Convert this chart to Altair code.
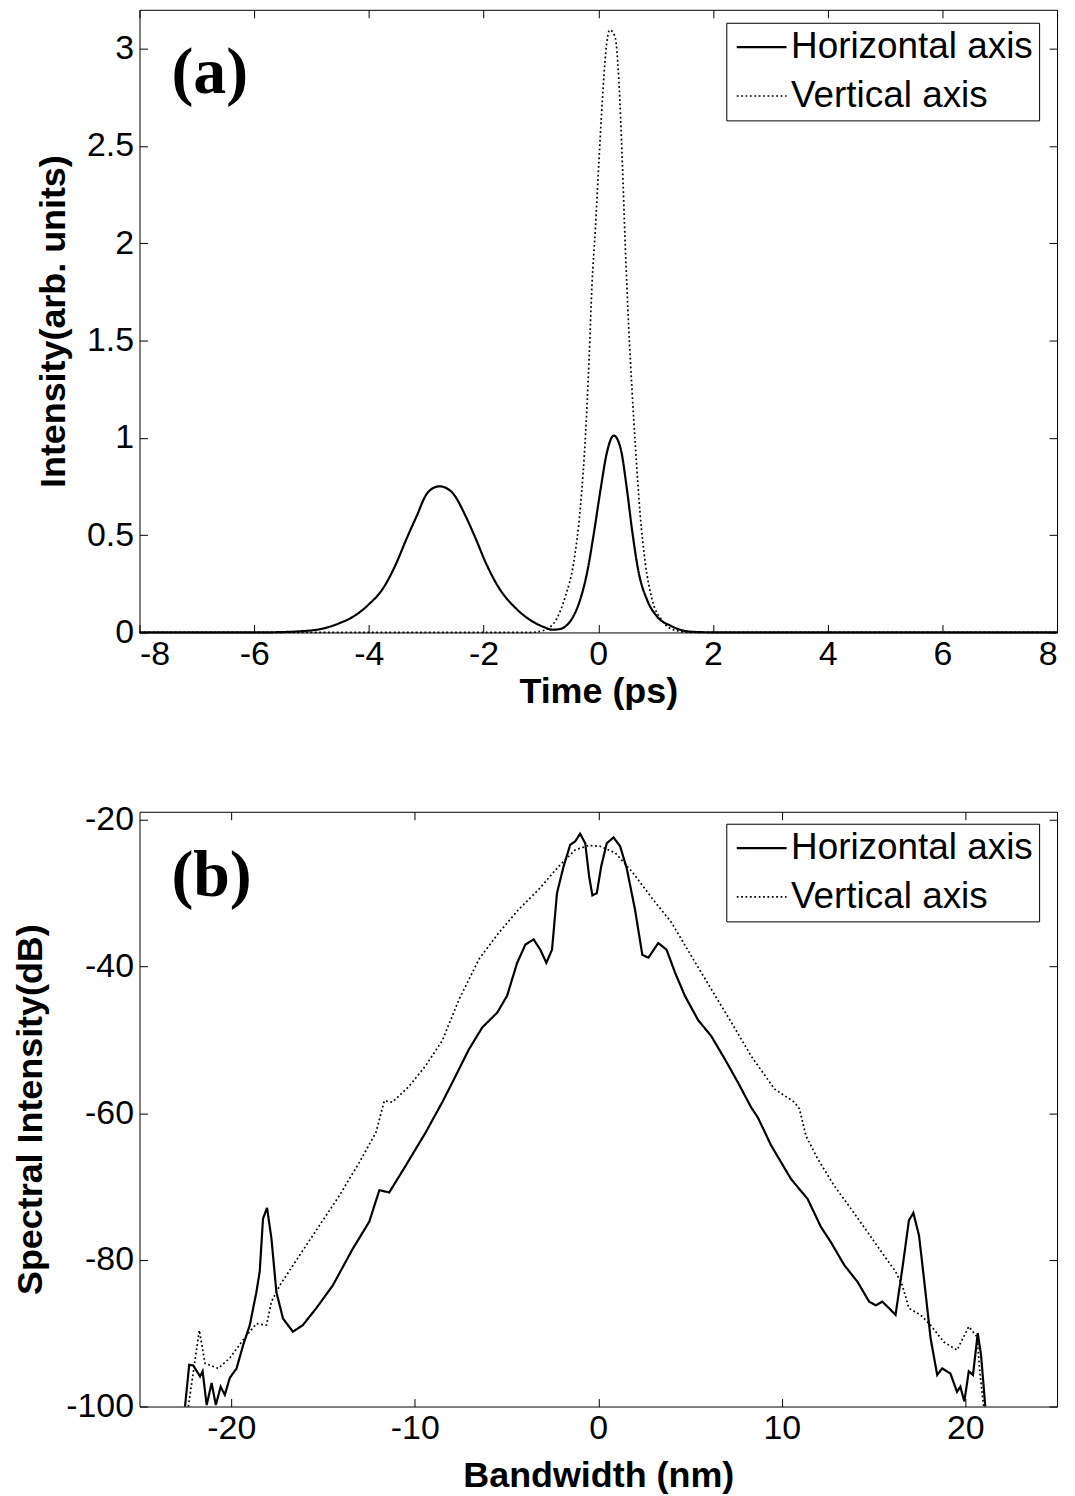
import altair as alt
import pandas as pd

# ---------------- panel (a): temporal intensity profiles ----------------
time_h = [-8, -6, -5.5, -5.26, -4.85, -4.51, -4.27, -4.01, -3.75, -3.52, -3.35,
          -3.17, -3.0, -2.88, -2.77, -2.65, -2.54, -2.31, -2.13, -1.96, -1.73,
          -1.44, -1.15, -0.95, -0.80, -0.66, -0.57, -0.45, -0.34, -0.19, -0.08,
          0.04, 0.15, 0.27, 0.39, 0.50, 0.59, 0.70, 0.85, 1.02, 1.28, 1.57,
          1.86, 2.2, 8]
int_h = [0, 0, 0.002, 0.005, 0.017, 0.048, 0.082, 0.142, 0.228, 0.357, 0.477,
         0.596, 0.708, 0.742, 0.751, 0.742, 0.717, 0.596, 0.477, 0.357, 0.228,
         0.125, 0.057, 0.028, 0.014, 0.018, 0.032, 0.075, 0.147, 0.315, 0.504,
         0.735, 0.924, 1.012, 0.945, 0.735, 0.525, 0.315, 0.168, 0.084, 0.032,
         0.005, 0.001, 0, 0]

time_v = [-8, -1.2, -1.03, -0.88, -0.74, -0.57, -0.43, -0.31, -0.22, -0.16,
          -0.11, -0.05, 0.01, 0.07, 0.13, 0.20, 0.29, 0.36, 0.42, 0.47, 0.53,
          0.59, 0.65, 0.73, 0.82, 0.94, 1.11, 1.34, 1.6, 8]
int_v = [0, 0, 0.005, 0.02, 0.063, 0.189, 0.357, 0.651, 1.028, 1.406, 1.784,
         2.078, 2.413, 2.728, 2.98, 3.096, 3.064, 2.833, 2.413, 1.994, 1.574,
         1.238, 0.945, 0.609, 0.357, 0.168, 0.063, 0.011, 0, 0]

# ---------------- panel (b): spectra ----------------
bw_h = [-22.52, -22.29, -22.07, -21.70, -21.56, -21.34, -21.07, -20.84, -20.58,
        -20.35, -20.08, -19.71, -19.35, -18.99, -18.63, -18.45, -18.27, -18.05,
        -17.81, -17.54, -17.18, -16.64, -16.10, -15.37, -14.47, -13.38, -12.48,
        -11.93, -11.39, -10.48, -9.40, -8.50, -7.95, -7.05, -6.32, -5.51, -4.97,
        -4.42, -3.97, -3.52, -3.16, -2.83, -2.52, -2.25, -1.89, -1.53, -1.26,
        -0.99, -0.71, -0.50, -0.32, -0.08, 0.16, 0.46, 0.83, 1.19, 1.55, 2.00,
        2.40, 2.73, 3.27, 3.72, 4.18, 4.72, 5.44, 6.16, 6.89, 7.61, 8.33, 8.70,
        9.42, 10.51, 11.41, 12.13, 12.68, 13.40, 14.13, 14.76, 15.12, 15.48,
        15.85, 16.20, 16.57, 16.93, 17.17, 17.48, 17.75, 18.11, 18.47, 18.74,
        19.19, 19.55, 19.73, 19.95, 20.19, 20.42, 20.68, 20.86, 21.09]
spec_h = [-100, -94.3, -94.4, -95.9, -95.2, -99.8, -96.8, -99.8, -97.3,
          -98.4, -96.1, -94.8, -91.6, -88.9, -84.4, -81.6, -74.4, -72.9,
          -77.1, -84.4, -88.0, -89.8, -88.9, -86.6, -83.5, -78.5, -74.8,
          -70.5, -70.8, -67.1, -62.6, -58.5, -55.8, -51.3, -48.3, -46.3, -44.0,
          -39.5, -37.0, -36.3, -37.7, -39.5, -37.7, -30.0, -26.35, -23.4, -22.95,
          -21.9, -23.2, -27.7, -30.3, -30.0, -26.35, -23.2, -22.4, -23.6, -26.6, -32.2,
          -38.4, -38.8, -36.8, -37.7, -40.8, -44.0, -47.3, -49.5, -52.6, -55.8, -59.2, -60.6,
          -64.4, -69.0, -71.7, -75.5, -77.6, -80.7, -83.0, -85.7, -86.2, -85.7,
          -86.6, -87.5, -81.2, -74.6, -73.6, -76.7, -82.6, -90.7, -95.7, -94.8,
          -95.5, -98.0, -97.3, -99.3, -95.2, -95.7, -90.0, -93.0, -100]

bw_v = [-22.34, -22.05, -21.74, -21.43, -20.71, -20.08, -19.35, -18.63, -18.08,
        -17.81, -17.36, -16.28, -15.19, -14.10, -13.02, -12.11, -11.66, -11.21,
        -10.30, -9.40, -8.50, -7.59, -6.50, -5.42, -4.33, -3.25, -2.16, -1.26,
        -0.53, 0.10, 0.92, 1.82, 2.90, 3.99, 5.08, 6.16, 7.25, 8.33, 9.60,
        10.69, 10.96, 11.32, 11.95, 12.86, 13.76, 14.67, 15.57, 16.20, 16.57,
        16.93, 17.56, 18.11, 18.83, 19.55, 20.19, 20.64, 20.79, 21.0]
spec_v = [-100, -95.0, -89.6, -94.1, -94.8, -93.4, -90.9, -88.7, -88.9,
          -85.7, -83.5, -79.4, -75.3, -71.2, -66.7, -62.6, -58.3, -58.5,
          -56.3, -53.5, -50.1, -44.5, -39.0, -35.4, -32.2, -29.5, -26.35, -24.1,
          -23.5, -23.6, -24.5, -27.0, -30.6, -34.0, -38.6, -43.1, -47.6, -52.2, -56.7,
          -58.5, -59.4, -63.1, -66.2, -69.9, -73.0, -76.2, -79.4, -81.6, -83.5,
          -86.6, -87.5, -88.9, -91.2, -92.3, -89.1, -90.5, -95.2, -100]

series_names = ["Horizontal axis", "Vertical axis"]
time_ticks = [-8, -6, -4, -2, 0, 2, 4, 6, 8]
int_ticks = [0, 0.5, 1, 1.5, 2, 2.5, 3]
bw_ticks = [-20, -10, 0, 10, 20]
spec_ticks = [-100, -80, -60, -40, -20]


def frame(xs_h, ys_h, xs_v, ys_v):
    return pd.DataFrame({
        "x": list(xs_h) + list(xs_v),
        "y": list(ys_h) + list(ys_v),
        "series": [series_names[0]] * len(xs_h) + [series_names[1]] * len(xs_v),
    })


SANS = "Liberation Sans"
TICK = 8
LABEXPR = "'' + datum.value"


def panel(df, xdom, ydom, xticks, yticks, xtitle, ytitle, label, h, interp,
          ytitle_pad, xlab_pad, xtitle_pad, legend_y, label_y):
    xs = alt.Scale(domain=xdom, nice=False, zero=False)
    ys = alt.Scale(domain=ydom, nice=False, zero=False)
    leg = alt.Legend(orient="none", legendX=589, legendY=legend_y, title=None,
                     direction="vertical", strokeColor="black", fillColor="white",
                     padding=6, labelFont=SANS, labelFontSize=37, labelColor="black",
                     labelLimit=600, labelOffset=3, rowPadding=11, symbolType="stroke",
                     symbolSize=2500, clipHeight=37, symbolStrokeColor="black",
                     symbolOffset=3)
    lines = alt.Chart(df).mark_line(color="black", interpolate=interp).encode(
        x=alt.X("x:Q", scale=xs,
                axis=alt.Axis(orient="bottom", values=xticks, title=xtitle, offset=-TICK,
                              tickSize=TICK, labelPadding=xlab_pad,
                              titlePadding=xtitle_pad, labelExpr=LABEXPR)),
        y=alt.Y("y:Q", scale=ys,
                axis=alt.Axis(orient="left", values=yticks, title=ytitle, offset=-TICK,
                              tickSize=TICK, labelPadding=6, titlePadding=ytitle_pad,
                              labelExpr=LABEXPR)),
        strokeDash=alt.StrokeDash("series:N",
                                  scale=alt.Scale(domain=series_names,
                                                  range=[[1, 0], [1.8, 2.6]]),
                                  legend=leg),
        strokeWidth=alt.StrokeWidth("series:N",
                                    scale=alt.Scale(domain=series_names, range=[2.2, 1.7]),
                                    legend=leg),
    )
    box_axes = alt.Chart(df).mark_point(opacity=0).encode(
        x=alt.X("x:Q", scale=xs,
                axis=alt.Axis(orient="top", values=xticks, labels=False, title=None,
                              offset=-TICK, tickSize=TICK)),
        y=alt.Y("y:Q", scale=ys,
                axis=alt.Axis(orient="right", values=yticks, labels=False, title=None,
                              offset=-TICK, tickSize=TICK)),
    )
    tag = alt.Chart(pd.DataFrame({"t": [label]})).mark_text(
        font="Liberation Serif", fontWeight="bold", fontSize=66, align="left",
        baseline="alphabetic", color="black"
    ).encode(x=alt.value(32), y=alt.value(label_y), text="t:N")
    return alt.layer(lines, box_axes, tag).resolve_axis(
        x="independent", y="independent").properties(width=921, height=h)


top = panel(frame(time_h, int_h, time_v, int_v), [-8, 8], [0, 3.2], time_ticks,
            int_ticks, "Time (ps)", "Intensity(arb. units)", "(a)", 625, "monotone",
            14, 5, 3, 13, 84)
bottom = panel(frame(bw_h, spec_h, bw_v, spec_v), [-25, 25], [-100, -18.9], bw_ticks,
               spec_ticks, "Bandwidth (nm)", "Spectral Intensity(dB)", "(b)", 597,
               "linear", 16, 5, 13, 12, 85)

chart = alt.vconcat(top, bottom, spacing=92).resolve_scale(
    strokeDash="independent", strokeWidth="independent"
).resolve_legend(
    strokeDash="independent", strokeWidth="independent"
).properties(
    padding={"left": 4, "top": -2, "right": 5, "bottom": 0},
    background="white"
).configure_view(
    stroke="black", strokeWidth=1
).configure_axis(
    labelFont=SANS, labelFontSize=34, labelColor="black",
    titleFont=SANS, titleFontSize=36, titleFontWeight="bold", titleColor="black",
    tickColor="black", tickWidth=1, domain=False, grid=False
)

chart.save("out.html", embed_options={"renderer": "svg", "actions": False})
